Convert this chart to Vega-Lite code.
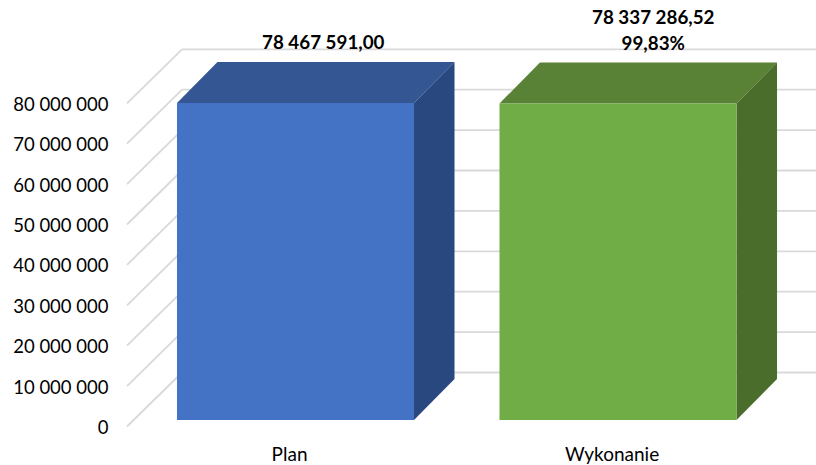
{
"$schema":"https://vega.github.io/schema/vega-lite/v6.json",
"width":689,"height":432,"autosize":"none",
"padding":{"left":127,"top":0,"right":0,"bottom":33},
"background":"white",
"config":{"view":{"stroke":null},"font":"Lato"},
"datasets":{
"bars":[
{"category":"Plan","idx":0,"value":78467591,"label":"78 467 591,00"},
{"category":"Wykonanie","idx":1,"value":78337286.52,"label":"78 337 286,52\n99,83%"}
],
"ticks":[{"v":0},{"v":10000000},{"v":20000000},{"v":30000000},{"v":40000000},{"v":50000000},{"v":60000000},{"v":70000000},{"v":80000000}]
},
"layer":[
{"data":{"name":"ticks"},
"transform":[{"calculate":"datum.v+11760000","as":"back"},{"calculate":"datum.v-1610000","as":"front"},{"calculate":"-0.52248","as":"xa"},{"calculate":"-0.3519","as":"xb"},{"calculate":"1.61395","as":"xc"}],
"mark":{"type":"rule","stroke":"#d9d9d9","strokeWidth":1.8},
"encoding":{
"x":{"field":"xa","type":"quantitative","scale":{"domain":[-0.52248,1.61395],"nice":false,"zero":false},
"axis":{"values":[-0.02,0.98],"title":null,"grid":false,"domain":false,"ticks":false,"labelFont":"Lato","labelFontSize":19,"labelColor":"#000000","labelPadding":13,"labelExpr":"datum.value<0.5?'Plan':'Wykonanie'"}},
"x2":{"field":"xb"},
"y":{"field":"front","type":"quantitative","scale":{"domain":[-2970000,103960000],"nice":false,"zero":false},
"axis":{"values":[0,10000000,20000000,30000000,40000000,50000000,60000000,70000000,80000000],"title":null,"grid":false,"domain":false,"ticks":false,"labelFont":"Lato","labelFontSize":18.5,"labelColor":"#000000","labelPadding":19,"labelOffset":7.5,"labelExpr":"replace(format(datum.value,','),/,/g,' ')"}},
"y2":{"field":"back"}
}},
{"data":{"name":"ticks"},
"transform":[{"calculate":"datum.v+11760000","as":"back"},{"calculate":"-0.3519","as":"xb"},{"calculate":"1.61395","as":"xc"}],
"mark":{"type":"rule","stroke":"#d9d9d9","strokeWidth":1.8},
"encoding":{
"x":{"field":"xb","type":"quantitative"},
"x2":{"field":"xc"},
"y":{"field":"back","type":"quantitative"}
}},
{"data":{"name":"bars"},
"transform":[{"calculate":"[0,1,2,3]","as":"k"},{"flatten":["k"]},
{"calculate":"datum.idx-0.3675+[0,0.1256,0.735,0.8606][datum.k]","as":"px"},
{"calculate":"datum.value+[0,10150000,10150000,10150000][datum.k]","as":"upper"},
{"calculate":"datum.value+[0,0,0,10150000][datum.k]","as":"lower"},
{"calculate":"datum.category+' top'","as":"face"}],
"mark":{"type":"area","orient":"vertical","line":false},
"encoding":{
"x":{"field":"px","type":"quantitative"},
"y":{"field":"upper","type":"quantitative","stack":null},
"y2":{"field":"lower"},
"color":{"field":"face","type":"nominal","legend":null,"scale":{"domain":["Plan front","Plan top","Plan side","Wykonanie front","Wykonanie top","Wykonanie side"],"range":["#4472c4","#345693","#294880","#70ad47","#598236","#4a6d2b"]}}
}},
{"data":{"name":"bars"},
"transform":[{"calculate":"[0,1]","as":"k"},{"flatten":["k"]},
{"calculate":"datum.idx+0.3675+datum.k*0.1256","as":"px"},
{"calculate":"datum.value+datum.k*10150000","as":"upper"},
{"calculate":"datum.k*10150000","as":"lower"},
{"calculate":"datum.category+' side'","as":"face"}],
"mark":{"type":"area","orient":"vertical","line":false},
"encoding":{
"x":{"field":"px","type":"quantitative"},
"y":{"field":"upper","type":"quantitative","stack":null},
"y2":{"field":"lower"},
"color":{"field":"face","type":"nominal","legend":null}
}},
{"data":{"name":"bars"},
"transform":[{"calculate":"datum.idx-0.3675","as":"x0"},{"calculate":"datum.idx+0.3675","as":"x1"},{"calculate":"0","as":"base"},{"calculate":"datum.category+' front'","as":"face"}],
"mark":{"type":"rect"},
"encoding":{
"x":{"field":"x0","type":"quantitative"},
"x2":{"field":"x1"},
"y":{"field":"value","type":"quantitative","stack":null},
"y2":{"field":"base"},
"color":{"field":"face","type":"nominal","legend":null}
}},
{"data":{"name":"bars"},
"transform":[{"filter":"datum.idx==0"},{"calculate":"datum.value+10150000","as":"ty"},{"calculate":"datum.idx+0.0628","as":"tx"}],
"mark":{"type":"text","font":"Lato","fontWeight":"bold","fontSize":18.8,"color":"#000000","baseline":"bottom","align":"center","lineBreak":"\n","lineHeight":26,"dx":7.5,"dy":-9},
"encoding":{
"x":{"field":"tx","type":"quantitative"},
"y":{"field":"ty","type":"quantitative"},
"text":{"field":"label"}
}},
{"data":{"name":"bars"},
"transform":[{"filter":"datum.idx==1"},{"calculate":"datum.value+10150000","as":"ty"},{"calculate":"datum.idx+0.0628","as":"tx"}],
"mark":{"type":"text","font":"Lato","fontWeight":"bold","fontSize":18.8,"color":"#000000","baseline":"bottom","align":"center","lineBreak":"\n","lineHeight":26,"dx":15,"dy":-35},
"encoding":{
"x":{"field":"tx","type":"quantitative"},
"y":{"field":"ty","type":"quantitative"},
"text":{"field":"label"}
}}
]
}
